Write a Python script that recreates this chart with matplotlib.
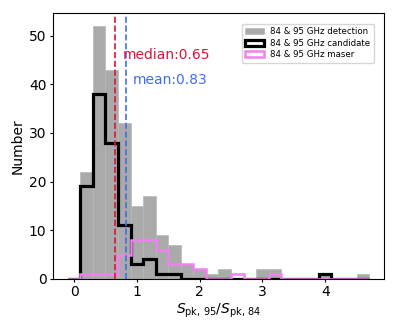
import numpy as np
import matplotlib
matplotlib.use("Agg")
import matplotlib.pyplot as plt

# bin edges of the ratio histogram (width 0.2)
edges = np.round(np.arange(-0.1, 4.71, 0.2), 2)
centers = (edges[:-1] + edges[1:]) / 2

detection = [0, 22, 52, 43, 32, 15, 17, 9, 7, 3, 2, 1, 2, 0, 0, 2, 2, 0, 0, 0, 1, 0, 0, 1]
candidate = [0, 19, 38, 28, 11, 3, 4, 1, 1, 0, 0, 0, 0, 0, 0, 0, 0, 0, 0, 0, 1, 0, 0, 0]
maser = [0, 1, 1, 1, 5, 8, 8, 6, 3, 3, 2, 0, 0, 1, 0, 0, 1, 0, 0, 0, 0, 0, 0, 0]

median_val = 0.65
mean_val = 0.83

fig, ax = plt.subplots(figsize=(3.99, 3.32), dpi=100)
fig.subplots_adjust(left=0.132, right=0.963, bottom=0.160, top=0.960)

ax.hist(centers, bins=edges, weights=detection, color="#aaaaaa",
        edgecolor="#b8b8b8", linewidth=0.5, label="84 & 95 GHz detection")
ax.hist(centers, bins=edges, weights=candidate, histtype="step",
        color="black", linewidth=2.3, label="84 & 95 GHz candidate")
ax.hist(centers, bins=edges, weights=maser, histtype="step",
        color="violet", linewidth=1.8, label="84 & 95 GHz maser")

ax.axvline(median_val, color="crimson", linestyle="--", linewidth=1.2)
ax.axvline(mean_val, color="#3f6fe6", linestyle="--", linewidth=1.2)
ax.text(median_val + 0.12, 46, "median:0.65", color="crimson",
        fontsize=10, ha="left", va="center")
ax.text(mean_val + 0.11, 40.8, "mean:0.83", color="#3f6fe6",
        fontsize=10, ha="left", va="center")

ax.set_xticks([0, 1, 2, 3, 4])
ax.set_yticks([0, 10, 20, 30, 40, 50])
ax.set_ylim(0, 54.6)
ax.tick_params(length=2.5, pad=2, labelsize=10)
ax.set_xlabel(r"$S_{\rm pk,\,95}/S_{\rm pk,\,84}$", fontsize=10, labelpad=2)
ax.set_ylabel("Number", fontsize=10, labelpad=3)
ax.legend(loc="upper right", fontsize=6.2, labelspacing=0.3,
          handlelength=2.2, handletextpad=0.7, borderaxespad=1.2)

fig.savefig("out.png", dpi=100)
